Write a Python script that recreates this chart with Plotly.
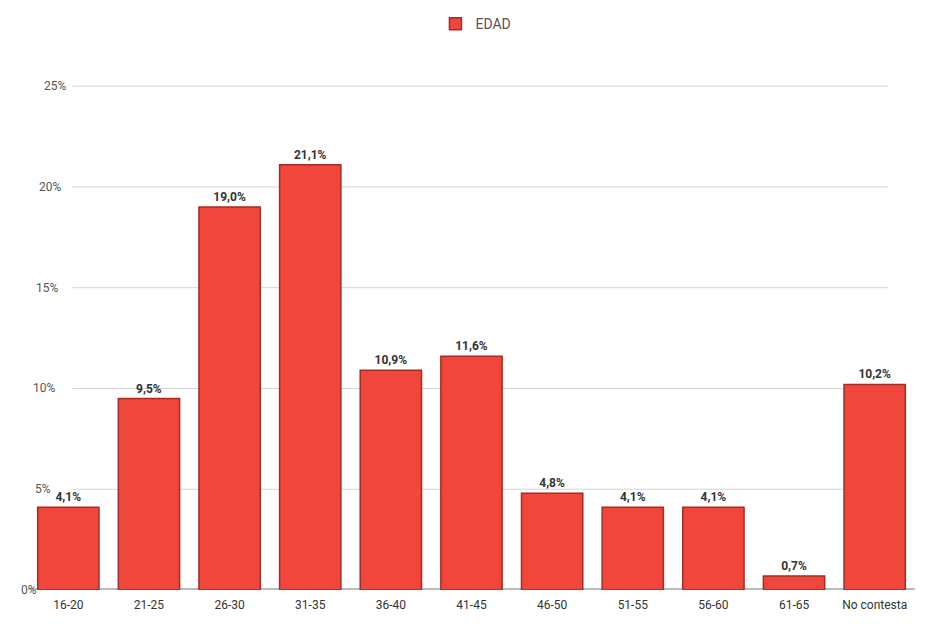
import plotly.graph_objects as go

categories = ["16-20", "21-25", "26-30", "31-35", "36-40", "41-45", "46-50",
              "51-55", "56-60", "61-65", "No contesta"]
edad = [4.1, 9.5, 19.0, 21.1, 10.9, 11.6, 4.8, 4.1, 4.1, 0.7, 10.2]
y_ticks = [0, 5, 10, 15, 20, 25]
y_tick_text = ["0%", "5%", "10%", "15%", "20%", "25%"]
series_name = "EDAD"

# horizontal anchor (paper fraction) of each y tick label, mimicking the reference's slant
label_x = [0.012, 0.028, 0.033, 0.036, 0.040, 0.045]

fig = go.Figure()
fig.add_trace(go.Bar(
    x=categories, y=edad, name=series_name,
    marker=dict(color="#f0463b", line=dict(color="#a32c24", width=1.5)),
    texttemplate="<b>%{y:.1f}%</b>", textposition="outside",
    textfont=dict(family="Roboto, sans-serif", size=12, color="#333333"),
    cliponaxis=False,
))

shapes = []
for t in y_ticks[1:]:
    shapes.append(dict(type="line", xref="paper", yref="y", x0=0.05, x1=0.97, y0=t, y1=t,
                       line=dict(color="#d4d4d4", width=1), layer="below"))
shapes.append(dict(type="line", xref="paper", yref="y", x0=0.0, x1=1.0, y0=0, y1=0,
                   line=dict(color="#b8bcbc", width=4), layer="below"))

annotations = []
for t, s, lx in zip(y_ticks, y_tick_text, label_x):
    annotations.append(dict(xref="paper", yref="y", x=lx, y=t, text=s, showarrow=False,
                            xanchor="right", yanchor="middle",
                            font=dict(family="Roboto, sans-serif", size=12, color="#555555")))

fig.update_layout(
    width=935, height=627,
    margin=dict(l=20, r=28, t=58, b=45, autoexpand=False),
    paper_bgcolor="white", plot_bgcolor="white",
    separators=",.",
    bargap=0.24,
    showlegend=True,
    legend=dict(orientation="h", x=0.505, xanchor="center", y=1.08, yanchor="middle",
                font=dict(family="Roboto, sans-serif", size=14, color="#555555")),
    font=dict(family="Roboto, sans-serif", color="#444444"),
    shapes=shapes,
    annotations=annotations,
    xaxis=dict(showgrid=False, showline=False, ticks="", automargin=False,
               ticklabelstandoff=6,
               tickfont=dict(size=12, color="#333333")),
    yaxis=dict(range=[0, 26], showgrid=False, showticklabels=False,
               zeroline=False, showline=False, automargin=False),
)

fig.write_html("out.html")
